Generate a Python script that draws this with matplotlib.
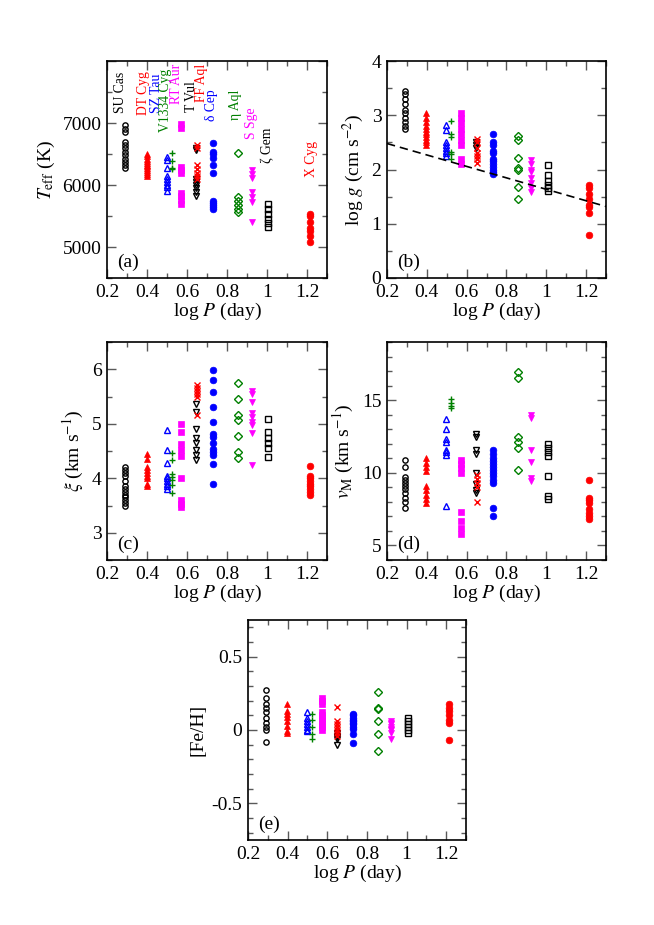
import matplotlib.pyplot as plt
from matplotlib.ticker import MultipleLocator, FuncFormatter

plt.rcParams['font.family'] = ['Liberation Serif', 'DejaVu Serif']
plt.rcParams['mathtext.fontset'] = 'stix'

STARS = ["SU Cas", "DT Cyg", "SZ Tau", "V1334 Cyg", "RT Aur", "T Vul",
         "FF Aql", "δ Cep", "η Aql", "S Sge", "ζ Gem", "X Cyg"]
LOGP = [0.290, 0.398, 0.498, 0.523, 0.571, 0.647,
        0.650, 0.730, 0.856, 0.923, 1.007, 1.214]

# (marker, colour, filled)
STYLE = [("o", "black", False), ("^", "red", True), ("^", "blue", False),
         ("+", "green", True), ("s", "magenta", True), ("v", "black", False),
         ("x", "red", True), ("o", "blue", True), ("D", "green", False),
         ("v", "magenta", True), ("s", "black", False), ("o", "red", True)]

# star-name annotations in panel (a): x, top of text (K)
LABEL_X = [0.27, 0.385, 0.446, 0.494, 0.545, 0.622, 0.673, 0.72, 0.845, 0.925, 1.005, 1.225]
LABEL_TOP = [7822, 7838, 7789, 7870, 7951, 7676, 7951, 7546, 7546, 7255, 6931, 6704]

TEFF = [
    [6960, 6900, 6850, 6690, 6640, 6600, 6530, 6480, 6420, 6370, 6320, 6280],
    [6500, 6460, 6420, 6390, 6360, 6330, 6300, 6270, 6240, 6210, 6180, 6150],
    [6450, 6400, 6280, 6150, 6100, 6050, 6000, 5960, 5910],
    [6510, 6390, 6270, 6260],
    [6980, 6920, 6290, 6240, 6200, 5870, 5820, 5750, 5700],
    [6600, 6560, 6100, 6050, 6000, 5950, 5880, 5820],
    [6650, 6600, 6320, 6260, 6200, 6140, 6100],
    [6670, 6540, 6500, 6440, 6330, 6200, 5740, 5710, 5680, 5650, 5620],
    [6520, 5800, 5740, 5680, 5620, 5560],
    [6240, 6180, 6120, 5880, 5800, 5730, 5410],
    [5700, 5620, 5530, 5450, 5380, 5320],
    [5530, 5500, 5400, 5310, 5250, 5170, 5080],
]

LOGG = [
    [3.45, 3.40, 3.30, 3.20, 3.10, 3.05, 2.95, 2.88, 2.80, 2.75],
    [3.05, 2.95, 2.88, 2.80, 2.75, 2.70, 2.65, 2.60, 2.55, 2.50, 2.45],
    [2.82, 2.72, 2.50, 2.45, 2.40, 2.35, 2.30, 2.25],
    [2.90, 2.66, 2.60, 2.33, 2.28, 2.20],
    [3.05, 2.95, 2.85, 2.75, 2.65, 2.55, 2.45, 2.20, 2.10],
    [2.50, 2.45, 2.40],
    [2.57, 2.50, 2.40, 2.30, 2.25, 2.20, 2.12],
    [2.65, 2.50, 2.45, 2.35, 2.30, 2.20, 2.15, 2.10, 2.05, 2.00, 1.95, 1.92],
    [2.61, 2.54, 2.21, 2.03, 2.00, 1.67, 1.45],
    [2.17, 2.10, 2.00, 1.95, 1.85, 1.75, 1.65, 1.58],
    [2.08, 1.90, 1.78, 1.72, 1.66, 1.61],
    [1.72, 1.65, 1.55, 1.45, 1.35, 1.30, 1.20, 0.80],
]
# dashed relation log g = A + B log P
LOGG_A, LOGG_B = 2.69, -1.055

XI = [
    [4.20, 4.15, 4.10, 4.05, 3.95, 3.85, 3.80, 3.75, 3.70, 3.65, 3.60, 3.55, 3.50],
    [4.45, 4.35, 4.20, 4.15, 4.10, 4.05, 4.00, 3.90, 3.85],
    [4.88, 4.52, 4.28, 4.05, 4.00, 3.95, 3.90, 3.85, 3.80],
    [4.46, 4.34, 4.08, 4.02, 3.96, 3.87, 3.73],
    [5.00, 4.85, 4.62, 4.52, 4.40, 4.00, 3.60, 3.52, 3.48],
    [5.37, 5.22, 4.91, 4.73, 4.64, 4.51, 4.42, 4.33],
    [5.72, 5.65, 5.60, 5.55, 5.50, 5.16],
    [5.98, 5.80, 5.58, 5.31, 5.03, 4.81, 4.76, 4.64, 4.54, 4.48, 4.42, 4.27, 3.89],
    [5.74, 5.46, 5.16, 5.06, 4.77, 4.48, 4.38],
    [5.60, 5.55, 5.40, 5.19, 5.13, 5.03, 4.97, 4.83, 4.24],
    [5.09, 4.85, 4.73, 4.64, 4.56, 4.39],
    [4.22, 4.05, 4.00, 3.95, 3.90, 3.85, 3.80, 3.75, 3.70],
]

VM = [
    [10.9, 10.4, 9.7, 9.5, 9.3, 9.1, 8.9, 8.6, 8.3, 8.0, 7.6],
    [11.0, 10.7, 10.4, 10.1, 9.1, 8.8, 8.5, 8.2, 7.9],
    [13.7, 13.0, 12.3, 12.1, 11.6, 11.4, 11.2, 7.7],
    [15.05, 14.8, 14.6, 14.45],
    [10.9, 10.6, 10.3, 10.0, 7.3, 6.7, 6.2, 5.8],
    [12.65, 12.45, 11.6, 11.3, 10.0, 9.2, 8.8, 8.6],
    [9.85, 9.6, 9.3, 9.0, 8.0],
    [11.6, 11.3, 11.0, 10.8, 10.6, 10.4, 10.2, 10.0, 9.8, 9.5, 9.3, 7.6, 7.0],
    [16.95, 16.5, 12.45, 12.1, 11.7, 10.2],
    [14.0, 13.75, 11.55, 10.75, 9.65, 9.45],
    [11.95, 11.7, 11.4, 11.15, 9.8, 8.4, 8.2],
    [9.5, 8.3, 8.1, 7.9, 7.5, 7.2, 7.0, 6.8],
]

FEH = [
    [0.27, 0.22, 0.18, 0.15, 0.12, 0.08, 0.05, 0.02, 0.00, -0.08],
    [0.18, 0.13, 0.11, 0.09, 0.06, 0.03, -0.01, -0.02],
    [0.12, 0.08, 0.06, 0.04, 0.02, 0.00, -0.01],
    [0.11, 0.07, 0.02, -0.03, -0.06],
    [0.22, 0.20, 0.18, 0.12, 0.10, 0.08, 0.06, 0.04, 0.02, 0.00],
    [-0.02, -0.04, -0.05, -0.06, -0.10],
    [0.16, 0.06, 0.04, 0.02, 0.00, -0.02, -0.04],
    [0.11, 0.10, 0.08, 0.07, 0.06, 0.05, 0.04, 0.02, 0.01, -0.03, -0.09],
    [0.26, 0.15, 0.14, 0.06, -0.03, -0.14],
    [0.06, 0.05, 0.04, 0.02, 0.01, 0.00, -0.02, -0.06],
    [0.08, 0.06, 0.04, 0.02, 0.00, -0.02],
    [0.18, 0.15, 0.13, 0.10, 0.07, 0.05, -0.07],
]

W, H = 654, 925
fig = plt.figure(figsize=(W / 100, H / 100), dpi=100)


def make_axes(x0, x1, y0, y1):
    return fig.add_axes([x0 / W, 1 - y1 / H, (x1 - x0) / W, (y1 - y0) / H])


def style_axes(ax, ylim, ymaj, ymin, ylabel, letter, hide_top=False):
    ax.set_xlim(0.2, 1.3)
    ax.set_ylim(*ylim)
    ax.xaxis.set_major_locator(MultipleLocator(0.2))
    ax.xaxis.set_minor_locator(MultipleLocator(0.1))
    ax.yaxis.set_major_locator(MultipleLocator(ymaj))
    ax.yaxis.set_minor_locator(MultipleLocator(ymin))
    top = ylim[1]

    def yfmt(v, pos):
        if hide_top and abs(v - top) < 1e-9:
            return ""
        return f"{v:g}"

    ax.xaxis.set_major_formatter(FuncFormatter(lambda v, p: f"{v:g}"))
    ax.yaxis.set_major_formatter(FuncFormatter(yfmt))
    ax.tick_params(which='both', direction='in', top=True, right=True,
                   labelsize=14, color='0.35', width=1.0, pad=4)
    ax.tick_params(which='major', length=6.5)
    ax.tick_params(which='minor', length=3.5)
    for sp in ax.spines.values():
        sp.set_linewidth(1.2)
    ax.set_xlabel("log $P$ (day)", fontsize=14, labelpad=0)
    ax.set_ylabel(ylabel, fontsize=14, labelpad=4)
    ax.text(0.045, 0.03, letter, transform=ax.transAxes, fontsize=14,
            ha='left', va='bottom')


def scatter(ax, values):
    for lp, vals, (m, c, filled) in zip(LOGP, values, STYLE):
        xs = [lp] * len(vals)
        if m in ("+", "x"):
            ax.plot(xs, vals, ls='none', marker=m, color=c, ms=5, mew=1.0)
        elif filled:
            ax.plot(xs, vals, ls='none', marker=m, color=c, ms=4.8, mew=0.5)
        else:
            ax.plot(xs, vals, ls='none', marker=m, mfc='none', mec=c,
                    ms=3.8, mew=1.0)


# (a) Teff
ax = make_axes(107, 327, 61, 278)
scatter(ax, TEFF)
style_axes(ax, (4500, 8000), 1000, 500, "$T_{\\rm eff}$ (K)", "(a)", hide_top=True)
for name, lx, ly, (m, c, f) in zip(STARS, LABEL_X, LABEL_TOP, STYLE):
    ax.text(lx, ly, name, rotation=90, color=c, fontsize=9.8,
            ha='center', va='top')

# (b) log g
ax = make_axes(387, 606, 61, 278)
scatter(ax, LOGG)
ax.plot([0.2, 1.3], [LOGG_A + LOGG_B * 0.2, LOGG_A + LOGG_B * 1.3],
        color='black', ls='--', lw=1.2, dashes=(5, 3))
style_axes(ax, (0, 4), 1, 0.5, "log $g$ (cm s$^{-2}$)", "(b)")

# (c) microturbulence
ax = make_axes(107, 327, 342, 560)
scatter(ax, XI)
style_axes(ax, (2.5, 6.5), 1, 0.5, "$\\xi$ (km s$^{-1}$)", "(c)")

# (d) macroturbulence
ax = make_axes(387, 606, 342, 560)
scatter(ax, VM)
style_axes(ax, (4, 19), 5, 1, "$v_{\\rm M}$ (km s$^{-1}$)", "(d)")

# (e) metallicity
ax = make_axes(248, 466, 620, 840)
scatter(ax, FEH)
style_axes(ax, (-0.75, 0.75), 0.5, 0.1, "[Fe/H]", "(e)")

fig.savefig("out.png", dpi=100)
